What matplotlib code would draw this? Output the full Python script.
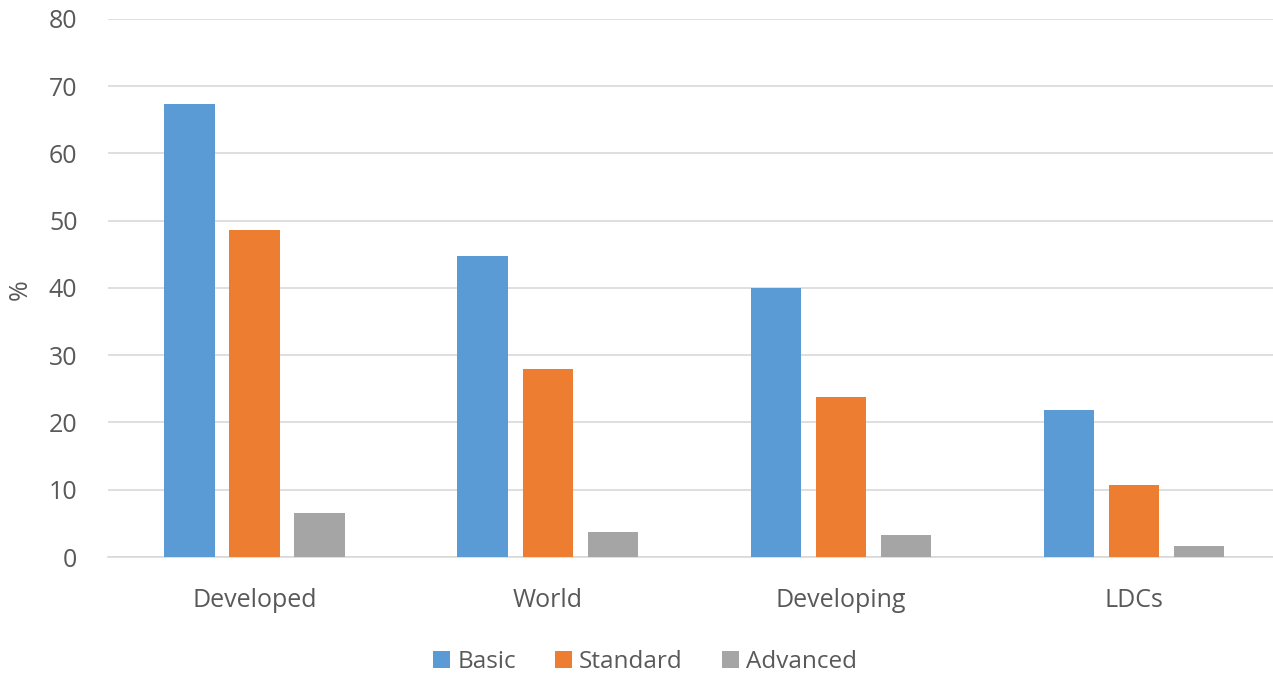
import numpy as np
import matplotlib.pyplot as plt

categories = ["Developed", "World", "Developing", "LDCs"]
basic = [67.4, 44.7, 40.0, 21.9]
standard = [48.6, 28.0, 23.8, 10.7]
advanced = [6.5, 3.7, 3.3, 1.6]

series = ["Basic", "Standard", "Advanced"]
colors = ["#5B9BD5", "#ED7D31", "#A5A5A5"]

plt.rcParams["font.family"] = ["Open Sans", "DejaVu Sans"]

fig = plt.figure(figsize=(12.73, 6.75), dpi=100)
ax = fig.add_axes([108 / 1273, 0.1748, 1 - 108 / 1273, 0.9719 - 0.1748])

x = np.arange(len(categories))
width = 0.172
step = 0.222
for i, (name, vals) in enumerate(zip(series, [basic, standard, advanced])):
    ax.bar(x + (i - 1) * step, vals, width, color=colors[i], label=name, zorder=3)

ax.set_xlim(-0.5, 3.474)
ax.set_ylim(0, 80)
ax.set_yticks(range(0, 81, 10))
ax.set_xticks(x)
ax.set_xticklabels(categories)
ax.tick_params(axis="both", length=0, labelsize=18, colors="#595959")
ax.tick_params(axis="x", pad=22)
ax.tick_params(axis="y", pad=22)
ax.yaxis.grid(True, color="#D9D9D9", linewidth=1.2, zorder=0)
for s in ["top", "right", "left"]:
    ax.spines[s].set_visible(False)
ax.spines["bottom"].set_color("#D9D9D9")
ax.spines["bottom"].set_linewidth(1.2)

fig.text(20 / 1273, 1 - 290 / 675, "%", rotation=90, fontsize=18, color="#595959",
         ha="center", va="center")

fig.legend(loc="center", bbox_to_anchor=(645 / 1273, 1 - 662 / 675), ncol=3,
           frameon=False, fontsize=17.5, labelcolor="#595959",
           handlelength=0.7, handleheight=0.7, handletextpad=0.3, columnspacing=1.6)

fig.savefig("out.png", dpi=100)
